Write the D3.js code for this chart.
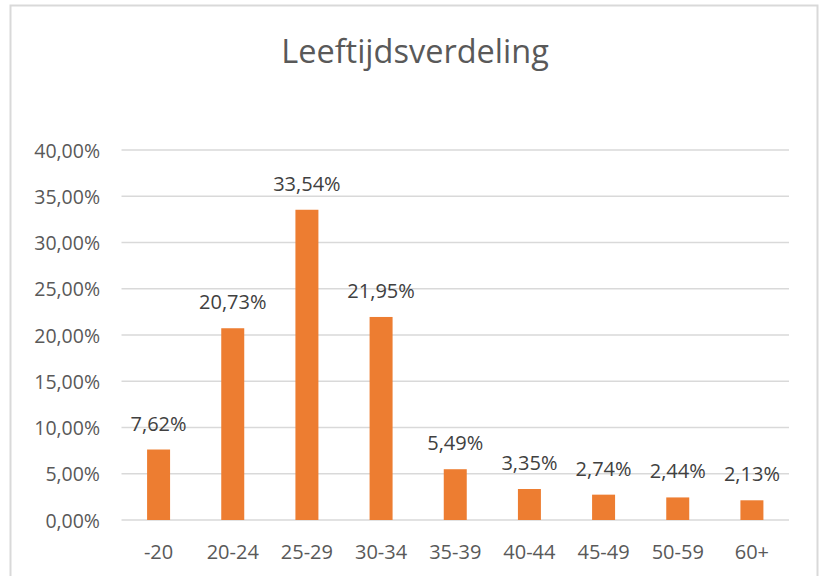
<!DOCTYPE html>
<html><head><meta charset="utf-8">
<script src="https://cdn.jsdelivr.net/npm/d3@7"></script>
<style>body{margin:0;background:#fff}svg{display:block}</style>
</head><body><svg id="c" width="819" height="576"></svg>
<script>
const categories = ["-20","20-24","25-29","30-34","35-39","40-44","45-49","50-59","60+"];
const values = [7.62,20.73,33.54,21.95,5.49,3.35,2.74,2.44,2.13];
const yTicks = [0,5,10,15,20,25,30,35,40];
const title = "Leeftijdsverdeling";

const svg = d3.select("#c");
const font = "'Open Sans', sans-serif";
svg.append("rect").attr("x",10.5).attr("y",5.5).attr("width",807).attr("height",580)
  .attr("fill","#fff").attr("stroke","#d9d9d9").attr("stroke-width",2);

const x = d3.scaleBand().domain(categories).range([121.5,789]).paddingInner(0.69).paddingOuter(0.345);
const y = d3.scaleLinear().domain([0,40]).range([520,150]);
const fmt = v => v.toFixed(2).replace(".",",") + "%";

svg.append("g").selectAll("line").data(yTicks).join("line")
  .attr("x1",121.5).attr("x2",789).attr("y1",d=>y(d)).attr("y2",d=>y(d))
  .attr("stroke","#d9d9d9").attr("stroke-width",1.3);

svg.append("g").selectAll("text").data(yTicks).join("text")
  .attr("x",100).attr("y",d=>y(d)+7.5).attr("text-anchor","end")
  .attr("font-family",font).attr("font-size",19.5).attr("fill","#595959").text(fmt);

svg.append("g").selectAll("rect").data(values).join("rect")
  .attr("x",(d,i)=>x(categories[i])).attr("width",x.bandwidth())
  .attr("y",d=>y(d)).attr("height",d=>y(0)-y(d)).attr("fill","#ed7d31");

svg.append("g").selectAll("text").data(values).join("text")
  .attr("x",(d,i)=>x(categories[i])+x.bandwidth()/2).attr("y",d=>y(d)-19)
  .attr("text-anchor","middle").attr("font-family",font).attr("font-size",20)
  .attr("fill","#404040").text(fmt);

svg.append("g").selectAll("text").data(categories).join("text")
  .attr("x",d=>x(d)+x.bandwidth()/2).attr("y",559).attr("text-anchor","middle")
  .attr("font-family",font).attr("font-size",20).attr("fill","#595959").text(d=>d);

svg.append("text").attr("x",415).attr("y",62.5).attr("text-anchor","middle")
  .attr("font-family",font).attr("font-size",32.5).attr("fill","#595959").text(title);
</script></body></html>
